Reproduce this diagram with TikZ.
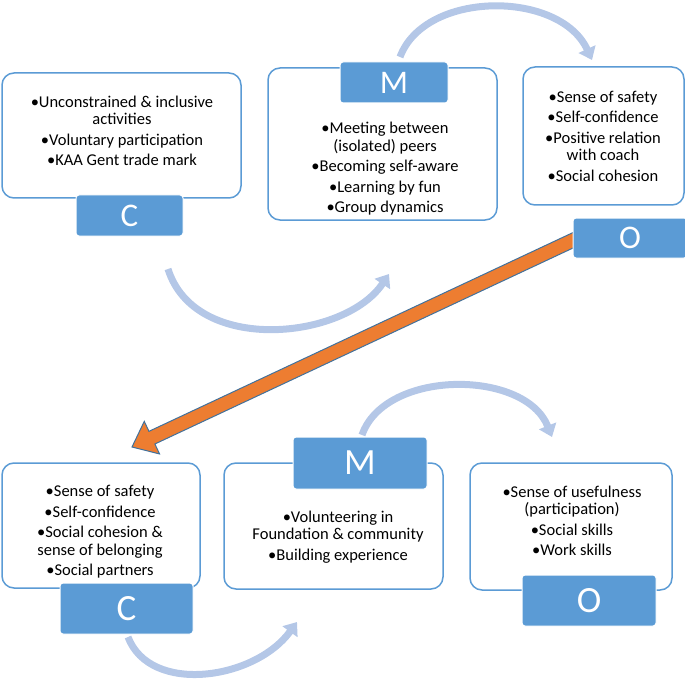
\documentclass[tikz,border=0pt]{standalone}
\usepackage{fontspec}
\setmainfont{Carlito}
\usepackage{tikz}
\usetikzlibrary{arrows.meta,calc}
\definecolor{tabblue}{HTML}{5B9BD5}
\definecolor{arcblue}{HTML}{B4C7E7}
\definecolor{arroworange}{HTML}{ED7D31}
\definecolor{edgeblue}{HTML}{41719C}
\tikzset{
	box/.style={draw=tabblue, line width=1.5pt, rounded corners=12pt, fill=white, inner sep=0pt},
	tab/.style={fill=tabblue, draw=white, line width=1pt, rounded corners=3pt, text=white, inner sep=0pt},
	txt/.style={align=center, font=\fontsize{16.5}{17.5}\selectfont, inner sep=0pt},
	flow/.style={draw=arcblue, line width=7pt, -{Triangle[width=18pt,length=12pt]}}
}

\begin{document}
\begin{tikzpicture}[x=1pt,y=-1pt]
		\useasboundingbox (0,0) rectangle (685,679);
		% top row
		\node[box, minimum width=239pt, minimum height=125pt] (cbox1) at (121.5,135.5) {};
		\node[box, minimum width=229pt, minimum height=152pt] (mbox1) at (382.5,144) {};
		\node[box, minimum width=161pt, minimum height=138pt] (obox1) at (603.5,136) {};
		\node[txt] (ctxt1) at (122,131) {\textbullet Unconstrained \& inclusive\\activities\\[3pt]\textbullet Voluntary participation\\[3pt]\textbullet KAA Gent trade mark};
		\node[txt] (mtxt1) at (385,169) {\textbullet Meeting between\\ (isolated) peers\\[3pt]\textbullet Becoming self-aware\\[3pt]\textbullet Learning by fun\\[3pt]\textbullet Group dynamics};
		\node[txt] (otxt1) at (603,136) {\textbullet Sense of safety\\[3pt]\textbullet Self-confidence\\[3pt]\textbullet Positive relation\\ with coach\\[3pt]\textbullet Social cohesion};
		% bottom row
		\node[box, minimum width=198pt, minimum height=125pt] (cbox2) at (101,525.5) {};
		\node[box, minimum width=219pt, minimum height=126pt] (mbox2) at (333.5,526) {};
		\node[box, minimum width=202pt, minimum height=127pt] (obox2) at (571,526.5) {};
		\node[txt] (ctxt2) at (100,532) {\textbullet Sense of safety\\[3pt]\textbullet Self-confidence\\[3pt]\textbullet Social cohesion \&\\sense of belonging\\[3pt]\textbullet Social partners};
		\node[txt] (mtxt2) at (338,537) {\textbullet Volunteering in\\Foundation \& community\\[3pt]\textbullet Building experience};
		\node[txt] (otxt2) at (572,521) {\textbullet Sense of usefulness\\ (participation)\\[3pt]\textbullet Social skills\\[3pt]\textbullet Work skills};
		% orange link
		\coordinate (otail) at (580,237);
		\coordinate (ctip) at (132,447);
		\coordinate (hbase) at ($(ctip)!22pt!(otail)$);
		\filldraw[fill=arroworange, draw=edgeblue, line width=1pt, line join=miter]
			($(otail)!7pt!90:(ctip)$) -- ($(hbase)!7pt!90:(ctip)$) -- ($(hbase)!18pt!90:(ctip)$) -- (ctip)
			-- ($(hbase)!18pt!-90:(ctip)$) -- ($(hbase)!7pt!-90:(ctip)$) -- ($(otail)!7pt!-90:(ctip)$) -- cycle;
		% tabs
		\node[tab, minimum width=107pt, minimum height=41pt, font=\fontsize{33}{33}\selectfont] (ctab1) at (129.5,215.5) {C};
		\node[tab, minimum width=108pt, minimum height=41pt, font=\fontsize{33}{33}\selectfont] (mtab1) at (394,82.5) {M};
		\node[tab, minimum width=114pt, minimum height=40pt, font=\fontsize{33}{33}\selectfont] (otab1) at (630,238) {O};
		\node[tab, minimum width=133pt, minimum height=51pt, font=\fontsize{37}{37}\selectfont] (ctab2) at (126.5,608.5) {C};
		\node[tab, minimum width=134pt, minimum height=52pt, font=\fontsize{37}{37}\selectfont] (mtab2) at (360,463) {M};
		\node[tab, minimum width=134pt, minimum height=51pt, font=\fontsize{37}{37}\selectfont] (otab2) at (589,600.5) {O};
		% curved flows
		\coordinate (f1s) at (168,269);
		\coordinate (f1e) at (389,274);
		\coordinate (f2s) at (400,57);
		\coordinate (f2e) at (592,60);
		\coordinate (f3s) at (128,637);
		\coordinate (f3e) at (297,622);
		\coordinate (f4s) at (362,435);
		\coordinate (f4e) at (552,437);
		\draw[flow] (f1s) .. controls (195,355) and (345,340) .. (f1e);
		\draw[flow] (f2s) .. controls (425,-10) and (560,-10) .. (f2e);
		\draw[flow] (f3s) .. controls (150,695) and (255,680) .. (f3e);
		\draw[flow] (f4s) .. controls (385,369) and (525,369) .. (f4e);
	\end{tikzpicture}
\end{document}
